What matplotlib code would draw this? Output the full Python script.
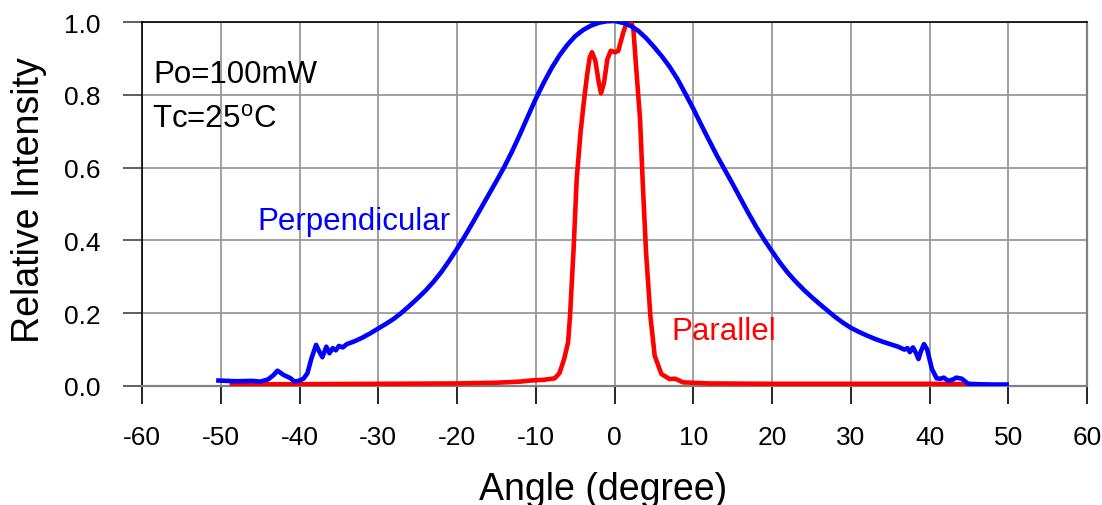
import numpy as np
import matplotlib
matplotlib.use("Agg")
import matplotlib.pyplot as plt

plt.rcParams['font.family'] = ['Liberation Sans', 'DejaVu Sans']
plt.rcParams['mathtext.fontset'] = 'custom'
plt.rcParams['mathtext.rm'] = 'Liberation Sans'

# Perpendicular (blue) far field pattern
perp_angle = [-50.3, -48, -46, -45, -44, -43.3, -42.8, -42, -41.2, -40.6,
              -40, -39.5, -39, -38.5, -37.9, -37.5, -37.1, -36.6, -36.2, -35.8,
              -35.4, -35, -34.5, -34, -33, -32, -31, -30, -29, -28,
              -27, -26, -25, -24, -23, -22, -21, -20, -19, -18,
              -17, -16, -15, -14, -13, -12, -11, -10, -9, -8,
              -7, -6, -5, -4, -3, -2, -1, 0, 1, 2,
              3, 4, 5, 6, 7, 8, 9, 10, 11, 12,
              13, 14, 15, 16, 17, 18, 19, 20, 21, 22,
              23, 24, 25, 26, 27, 28, 29, 30, 31, 32,
              33, 34, 35, 36, 36.8, 37.2, 37.5, 37.9, 38.3, 38.6,
              38.9, 39.3, 39.7, 40.3, 40.9, 41.4, 41.8, 42.4, 43, 43.4,
              44.1, 44.9, 46, 48, 49.8]
perp_int = [0.015, 0.013, 0.014, 0.012, 0.018, 0.03, 0.042, 0.03, 0.022, 0.012,
            0.015, 0.02, 0.035, 0.075, 0.113, 0.095, 0.079, 0.108, 0.09, 0.104,
            0.098, 0.11, 0.106, 0.115, 0.123, 0.133, 0.145, 0.158, 0.171, 0.185,
            0.202, 0.221, 0.241, 0.262, 0.286, 0.313, 0.344, 0.377, 0.412, 0.449,
            0.487, 0.525, 0.563, 0.602, 0.645, 0.692, 0.741, 0.789, 0.833, 0.873,
            0.908, 0.937, 0.961, 0.978, 0.99, 0.998, 1.002, 1.003, 0.998, 0.99,
            0.976, 0.956, 0.932, 0.906, 0.877, 0.843, 0.803, 0.762, 0.718, 0.675,
            0.633, 0.594, 0.555, 0.515, 0.475, 0.437, 0.402, 0.37, 0.339, 0.311,
            0.287, 0.265, 0.245, 0.226, 0.208, 0.19, 0.174, 0.16, 0.149, 0.139,
            0.13, 0.122, 0.115, 0.108, 0.1, 0.104, 0.093, 0.106, 0.09, 0.074,
            0.095, 0.115, 0.1, 0.047, 0.021, 0.02, 0.023, 0.014, 0.018, 0.023,
            0.02, 0.006, 0.005, 0.004, 0.004]

# Parallel (red) far field pattern
par_angle = [-48.6, -40, -30, -20, -15, -12, -10.7, -9, -7.6, -7,
             -6.4, -5.9, -5.65, -5.2, -4.8, -4.3, -3.9, -3.5, -3.15, -2.86,
             -2.44, -2.0, -1.71, -1.33, -0.91, -0.48, 0.06, 0.48, 1.12, 1.5,
             1.84, 2.1, 2.39, 2.73, 3.24, 3.6, 4.0, 4.55, 5.1, 5.95,
             7.0, 7.7, 8.3, 8.7, 12, 20, 30, 40, 45]
par_int = [0.004, 0.005, 0.006, 0.007, 0.009, 0.012, 0.015, 0.017, 0.021, 0.035,
           0.074, 0.12, 0.193, 0.376, 0.57, 0.7, 0.78, 0.852, 0.903, 0.917,
           0.894, 0.834, 0.804, 0.834, 0.898, 0.921, 0.917, 0.921, 0.972, 0.995,
           1.006, 1.0, 0.981, 0.88, 0.733, 0.55, 0.368, 0.193, 0.083, 0.033,
           0.019, 0.02, 0.014, 0.01, 0.007, 0.006, 0.006, 0.006, 0.005]

x_ticks = np.arange(-60, 61, 10)
y_ticks = [0.0, 0.2, 0.4, 0.6, 0.8, 1.0]

fig = plt.figure(figsize=(11.02, 5.06), dpi=100)
ax = fig.add_axes([0.1289, 0.2352, 0.8575, 0.7193])

ax.plot(par_angle, par_int, color="#ff0000", lw=3.3, solid_joinstyle="round", zorder=3)
ax.plot(perp_angle, perp_int, color="#0000ff", lw=3.3, solid_joinstyle="round", zorder=4)

ax.set_xlim(-60, 60)
ax.set_ylim(0, 1.0)
ax.set_xticks(x_ticks)
ax.set_xticklabels([str(t) for t in x_ticks])
ax.set_yticks(y_ticks)
ax.set_yticklabels(["%.1f" % t for t in y_ticks])
ax.grid(True, color="#999999", lw=1.3)
ax.set_axisbelow(True)

ax.tick_params(axis="x", direction="out", length=13, width=1.2, color="black",
               labelsize=19, pad=15)
ax.tick_params(axis="y", direction="out", length=14, width=1.2, color="#444444",
               labelsize=19, pad=16)

for side in ["left", "top"]:
    ax.spines[side].set_color("black")
    ax.spines[side].set_linewidth(1.2)
for side in ["right", "bottom"]:
    ax.spines[side].set_color("#808080")
    ax.spines[side].set_linewidth(1.6)

ax.text(-58.6, 0.835, "Po=100mW", fontsize=22.5, ha="left", va="baseline")
ax.text(-58.7, 0.713, r"Tc=25$^\mathrm{o}$C", fontsize=22.5, ha="left", va="baseline")
ax.text(-45.4, 0.432, "Perpendicular", fontsize=22.5, color="#0000ff", ha="left", va="baseline")
ax.text(7.2, 0.13, "Parallel", fontsize=22.5, color="#ff0000", ha="left", va="baseline")

fig.text(0.5477, 0.0119, "Angle (degree)", fontsize=27, ha="center", va="baseline")
fig.text(0.026, 0.605, "Relative Intensity", fontsize=27, rotation=90,
         ha="center", va="center")

fig.savefig("out.png", dpi=100)
